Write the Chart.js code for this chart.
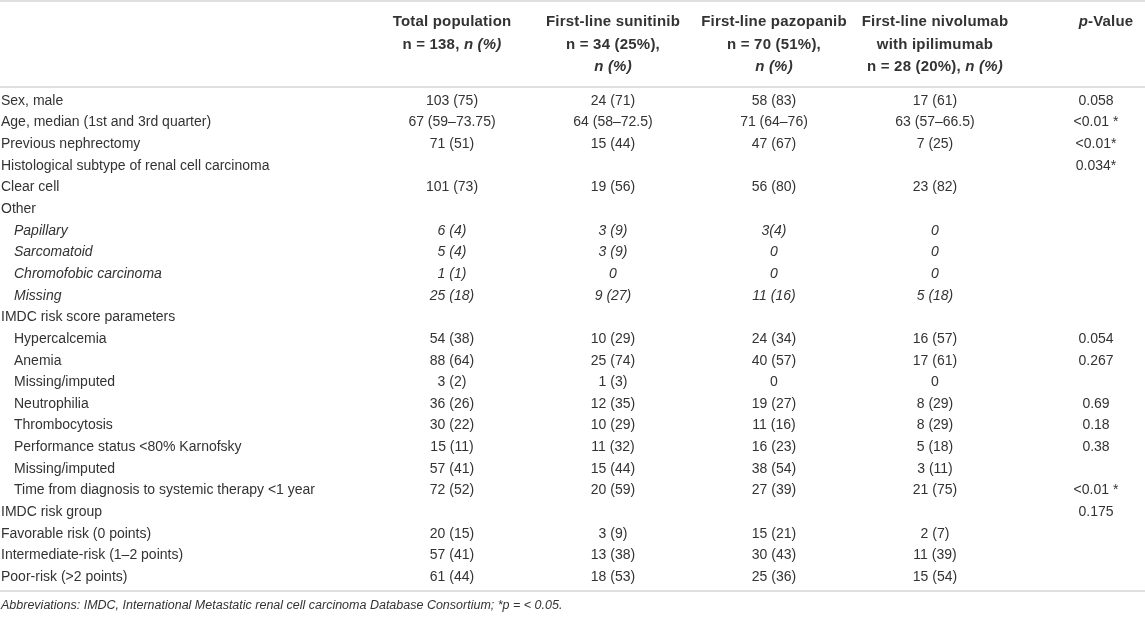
<!DOCTYPE html>
<html>
<head>
<meta charset="utf-8">
<script src="https://cdn.jsdelivr.net/npm/chart.js@4/dist/chart.umd.min.js"></script>
<style>
  html, body { margin: 0; padding: 0; background: #fff; }
  #wrap { width: 1145px; height: 617px; }
</style>
</head>
<body>
<div id="wrap"><canvas id="tableChart" width="1145" height="617"></canvas></div>
<script>
// table content, one array per column
var rowLabels = [
  'Sex, male',
  'Age, median (1st and 3rd quarter)',
  'Previous nephrectomy',
  'Histological subtype of renal cell carcinoma',
  'Clear cell',
  'Other',
  'Papillary',
  'Sarcomatoid',
  'Chromofobic carcinoma',
  'Missing',
  'IMDC risk score parameters',
  'Hypercalcemia',
  'Anemia',
  'Missing/imputed',
  'Neutrophilia',
  'Thrombocytosis',
  'Performance status <80% Karnofsky',
  'Missing/imputed',
  'Time from diagnosis to systemic therapy <1 year',
  'IMDC risk group',
  'Favorable risk (0 points)',
  'Intermediate-risk (1–2 points)',
  'Poor-risk (>2 points)'
];

var totalCol = ['103 (75)', '67 (59–73.75)', '71 (51)', null, '101 (73)', null,
  '6 (4)', '5 (4)', '1 (1)', '25 (18)', null,
  '54 (38)', '88 (64)', '3 (2)', '36 (26)', '30 (22)', '15 (11)', '57 (41)', '72 (52)',
  null, '20 (15)', '57 (41)', '61 (44)'];

var sunitinibCol = ['24 (71)', '64 (58–72.5)', '15 (44)', null, '19 (56)', null,
  '3 (9)', '3 (9)', '0', '9 (27)', null,
  '10 (29)', '25 (74)', '1 (3)', '12 (35)', '10 (29)', '11 (32)', '15 (44)', '20 (59)',
  null, '3 (9)', '13 (38)', '18 (53)'];

var pazopanibCol = ['58 (83)', '71 (64–76)', '47 (67)', null, '56 (80)', null,
  '3(4)', '0', '0', '11 (16)', null,
  '24 (34)', '40 (57)', '0', '19 (27)', '11 (16)', '16 (23)', '38 (54)', '27 (39)',
  null, '15 (21)', '30 (43)', '25 (36)'];

var nivolumabCol = ['17 (61)', '63 (57–66.5)', '7 (25)', null, '23 (82)', null,
  '0', '0', '0', '5 (18)', null,
  '16 (57)', '17 (61)', '0', '8 (29)', '8 (29)', '5 (18)', '3 (11)', '21 (75)',
  null, '2 (7)', '11 (39)', '15 (54)'];

var pValues = ['0.058', '<0.01 *', '<0.01*', '0.034*', null, null,
  null, null, null, null, null,
  '0.054', '0.267', null, '0.69', '0.18', '0.38', null, '<0.01 *',
  '0.175', null, null, null];

// header lines per column: each line is a list of [text, italic]
var headers = [
  [[['Total population', false]], [['n = 138, ', false], ['n (%)', true]]],
  [[['First-line sunitinib', false]], [['n = 34 (25%),', false]], [['n (%)', true]]],
  [[['First-line pazopanib', false]], [['n = 70 (51%),', false]], [['n (%)', true]]],
  [[['First-line nivolumab', false]], [['with ipilimumab', false]], [['n = 28 (20%), ', false], ['n (%)', true]]],
  [[['p', true], ['-Value', false]]]
];

var footnote = 'Abbreviations: IMDC, International Metastatic renal cell carcinoma Database Consortium; *p = < 0.05.';

var indentedRows = [6, 7, 8, 9, 11, 12, 13, 14, 15, 16, 17, 18];
var italicRows = [6, 7, 8, 9];

var columns = [totalCol, sunitinibCol, pazopanibCol, nivolumabCol, pValues];

function toPoints(col, colIdx) {
  var pts = [];
  col.forEach(function (v, i) {
    if (v !== null) pts.push({ x: colIdx, y: i, text: v });
  });
  return pts;
}

var FONT = '"Liberation Sans", Arial, Helvetica, sans-serif';
var TEXT_COLOR = '#333333';
var RULE_COLOR = '#d4d4d4';

function fontFor(size, bold, italic) {
  return (italic ? 'italic ' : '') + (bold ? 'bold ' : '') + size + 'px ' + FONT;
}

function drawSegments(ctx, segs, cx, y, size, bold) {
  var total = 0;
  ctx.letterSpacing = '0.2px';
  segs.forEach(function (s) {
    ctx.font = fontFor(size, bold, s[1]);
    total += ctx.measureText(s[0]).width;
  });
  var x = cx - total / 2;
  ctx.textAlign = 'left';
  segs.forEach(function (s) {
    ctx.font = fontFor(size, bold, s[1]);
    ctx.fillText(s[0], x, y);
    x += ctx.measureText(s[0]).width;
  });
  ctx.letterSpacing = '0px';
}

var tablePlugin = {
  id: 'tableText',
  afterDatasetsDraw: function (chart) {
    var ctx = chart.ctx;
    var xs = chart.scales.x, ys = chart.scales.y;
    ctx.save();
    ctx.fillStyle = TEXT_COLOR;
    ctx.textBaseline = 'middle';

    // cells, at the points placed by the scales
    chart.data.datasets.forEach(function (ds, di) {
      var meta = chart.getDatasetMeta(di);
      meta.data.forEach(function (el, i) {
        var p = ds.data[i];
        ctx.font = fontFor(14, false, italicRows.indexOf(p.y) >= 0);
        ctx.textAlign = 'center';
        ctx.fillText(p.text, el.x, el.y);
      });
    });

    // row labels
    rowLabels.forEach(function (lab, i) {
      ctx.font = fontFor(14, false, italicRows.indexOf(i) >= 0);
      ctx.textAlign = 'left';
      var x = indentedRows.indexOf(i) >= 0 ? 14 : 1;
      ctx.fillText(lab, x, ys.getPixelForValue(i));
    });

    // header (the p-value heading sits a little right of its column)
    var lineY = [22, 45, 67];
    headers.forEach(function (lines, ci) {
      var cx = xs.getPixelForValue(ci) + (ci === 4 ? 10 : 0);
      lines.forEach(function (segs, li) {
        drawSegments(ctx, segs, cx, lineY[li], 15, true);
      });
    });

    // rules
    ctx.strokeStyle = RULE_COLOR;
    ctx.lineWidth = 1.5;
    [1, 87, 591].forEach(function (y) {
      ctx.beginPath();
      ctx.moveTo(0, y);
      ctx.lineTo(chart.width, y);
      ctx.stroke();
    });

    // footnote
    ctx.font = fontFor(12.5, false, true);
    ctx.textAlign = 'left';
    ctx.fillText(footnote, 1, 606);
    ctx.restore();
  }
};

var ctx = document.getElementById('tableChart');
var tableChart = new Chart(ctx, {
  type: 'scatter',
  data: {
    datasets: columns.map(function (col, ci) {
      return {
        label: 'col' + ci,
        data: toPoints(col, ci),
        pointRadius: 0,
        pointHoverRadius: 0
      };
    })
  },
  options: {
    responsive: false,
    animation: false,
    events: [],
    layout: {
      padding: { left: 452, right: 49, top: 90, bottom: 29 }
    },
    plugins: {
      legend: { display: false },
      tooltip: { enabled: false }
    },
    scales: {
      x: { type: 'linear', display: false, min: 0, max: 4 },
      y: { type: 'linear', display: false, reverse: true, min: -0.5, max: 22.5 }
    }
  },
  plugins: [tablePlugin]
});
</script>
</body>
</html>
